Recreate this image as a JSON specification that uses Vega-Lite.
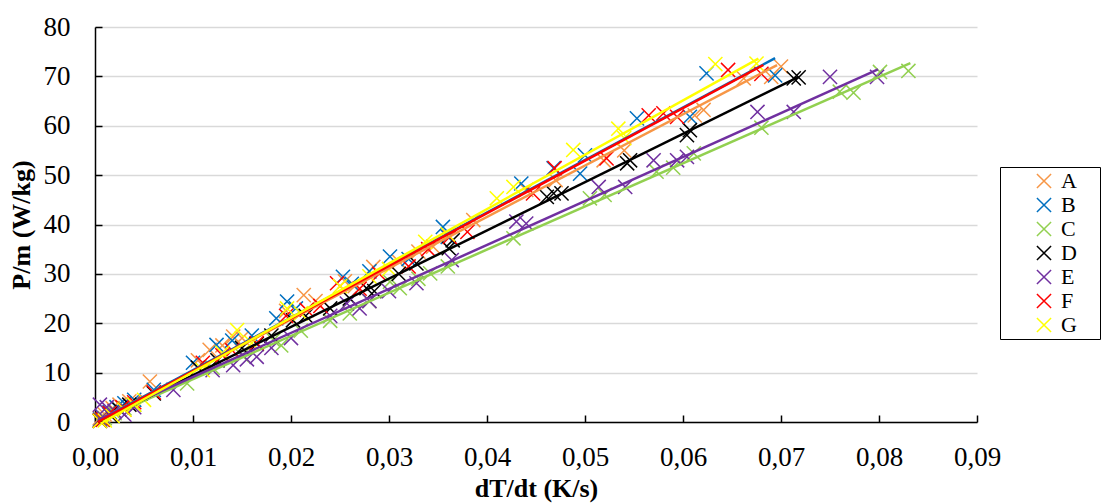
{
  "$schema": "https://vega.github.io/schema/vega-lite/v6.json",
  "width": 882,
  "height": 395,
  "autosize": {"type": "none"},
  "padding": {"left": 95, "top": 27, "right": 125, "bottom": 81},
  "background": "white",
  "config": {
    "view": {"stroke": null},
    "font": "Liberation Serif"
  },
  "datasets": {
    "pts": [
      {"series":"A","x":0.0005,"y":0.8},{"series":"A","x":0.0010,"y":1.5},{"series":"A","x":0.0018,"y":2.8},{"series":"A","x":0.0025,"y":3.5},{"series":"A","x":0.0030,"y":2.5},{"series":"A","x":0.0035,"y":4.2},{"series":"A","x":0.0056,"y":8.2},{"series":"A","x":0.0105,"y":12.5},{"series":"A","x":0.0117,"y":14.6},{"series":"A","x":0.0130,"y":15.5},{"series":"A","x":0.0141,"y":17.3},{"series":"A","x":0.0150,"y":17.0},{"series":"A","x":0.0195,"y":22.5},{"series":"A","x":0.0213,"y":25.7},{"series":"A","x":0.0225,"y":24.5},{"series":"A","x":0.0255,"y":28.5},{"series":"A","x":0.0265,"y":27.5},{"series":"A","x":0.0284,"y":31.4},{"series":"A","x":0.0310,"y":32.5},{"series":"A","x":0.0330,"y":34.5},{"series":"A","x":0.0345,"y":35.5},{"series":"A","x":0.0386,"y":40.9},{"series":"A","x":0.0440,"y":47.0},{"series":"A","x":0.0470,"y":49.0},{"series":"A","x":0.0519,"y":53.0},{"series":"A","x":0.0540,"y":55.0},{"series":"A","x":0.0612,"y":62.1},{"series":"A","x":0.0621,"y":63.2},{"series":"A","x":0.0662,"y":69.6},{"series":"A","x":0.0690,"y":69.9},{"series":"A","x":0.0700,"y":72.0},
      {"series":"B","x":0.0005,"y":0.5},{"series":"B","x":0.0008,"y":1.0},{"series":"B","x":0.0015,"y":2.0},{"series":"B","x":0.0022,"y":3.0},{"series":"B","x":0.0030,"y":3.8},{"series":"B","x":0.0040,"y":4.5},{"series":"B","x":0.0060,"y":6.5},{"series":"B","x":0.0100,"y":12.0},{"series":"B","x":0.0124,"y":15.6},{"series":"B","x":0.0140,"y":16.5},{"series":"B","x":0.0160,"y":17.5},{"series":"B","x":0.0185,"y":21.0},{"series":"B","x":0.0196,"y":24.4},{"series":"B","x":0.0205,"y":23.0},{"series":"B","x":0.0253,"y":29.4},{"series":"B","x":0.0262,"y":28.0},{"series":"B","x":0.0280,"y":30.5},{"series":"B","x":0.0301,"y":33.5},{"series":"B","x":0.0320,"y":33.0},{"series":"B","x":0.0355,"y":39.5},{"series":"B","x":0.0360,"y":37.5},{"series":"B","x":0.0435,"y":48.3},{"series":"B","x":0.0468,"y":51.4},{"series":"B","x":0.0495,"y":50.3},{"series":"B","x":0.0500,"y":54.0},{"series":"B","x":0.0553,"y":61.5},{"series":"B","x":0.0607,"y":61.8},{"series":"B","x":0.0624,"y":70.6},{"series":"B","x":0.0694,"y":70.2},
      {"series":"C","x":0.0005,"y":0.3},{"series":"C","x":0.0010,"y":0.8},{"series":"C","x":0.0020,"y":1.8},{"series":"C","x":0.0030,"y":2.8},{"series":"C","x":0.0040,"y":3.5},{"series":"C","x":0.0094,"y":7.8},{"series":"C","x":0.0120,"y":11.0},{"series":"C","x":0.0150,"y":13.5},{"series":"C","x":0.0182,"y":16.6},{"series":"C","x":0.0190,"y":15.5},{"series":"C","x":0.0210,"y":18.5},{"series":"C","x":0.0240,"y":20.5},{"series":"C","x":0.0260,"y":22.0},{"series":"C","x":0.0280,"y":24.5},{"series":"C","x":0.0301,"y":28.4},{"series":"C","x":0.0311,"y":27.1},{"series":"C","x":0.0330,"y":29.0},{"series":"C","x":0.0342,"y":30.1},{"series":"C","x":0.0360,"y":31.5},{"series":"C","x":0.0427,"y":37.2},{"series":"C","x":0.0505,"y":45.3},{"series":"C","x":0.0520,"y":46.0},{"series":"C","x":0.0573,"y":50.7},{"series":"C","x":0.0590,"y":51.5},{"series":"C","x":0.0611,"y":54.4},{"series":"C","x":0.0680,"y":59.6},{"series":"C","x":0.0760,"y":66.9},{"series":"C","x":0.0774,"y":66.7},{"series":"C","x":0.0801,"y":70.9},{"series":"C","x":0.0830,"y":71.1},
      {"series":"D","x":0.0005,"y":0.2},{"series":"D","x":0.0008,"y":0.5},{"series":"D","x":0.0015,"y":1.5},{"series":"D","x":0.0025,"y":2.5},{"series":"D","x":0.0035,"y":3.5},{"series":"D","x":0.0060,"y":5.8},{"series":"D","x":0.0105,"y":11.0},{"series":"D","x":0.0125,"y":12.5},{"series":"D","x":0.0150,"y":15.0},{"series":"D","x":0.0165,"y":15.8},{"series":"D","x":0.0180,"y":17.5},{"series":"D","x":0.0202,"y":20.6},{"series":"D","x":0.0215,"y":21.5},{"series":"D","x":0.0240,"y":23.0},{"series":"D","x":0.0260,"y":25.0},{"series":"D","x":0.0277,"y":27.1},{"series":"D","x":0.0285,"y":26.5},{"series":"D","x":0.0310,"y":30.0},{"series":"D","x":0.0328,"y":32.1},{"series":"D","x":0.0361,"y":35.2},{"series":"D","x":0.0365,"y":36.8},{"series":"D","x":0.0461,"y":45.6},{"series":"D","x":0.0468,"y":46.3},{"series":"D","x":0.0476,"y":46.3},{"series":"D","x":0.0543,"y":52.4},{"series":"D","x":0.0546,"y":53.0},{"series":"D","x":0.0604,"y":58.1},{"series":"D","x":0.0607,"y":59.1},{"series":"D","x":0.0713,"y":69.6},{"series":"D","x":0.0718,"y":69.8},
      {"series":"E","x":0.0005,"y":3.5},{"series":"E","x":0.0008,"y":1.0},{"series":"E","x":0.0012,"y":3.0},{"series":"E","x":0.0020,"y":2.2},{"series":"E","x":0.0030,"y":1.5},{"series":"E","x":0.0040,"y":3.0},{"series":"E","x":0.0080,"y":6.5},{"series":"E","x":0.0120,"y":10.5},{"series":"E","x":0.0141,"y":11.5},{"series":"E","x":0.0155,"y":12.7},{"series":"E","x":0.0165,"y":13.2},{"series":"E","x":0.0180,"y":15.0},{"series":"E","x":0.0200,"y":17.0},{"series":"E","x":0.0240,"y":21.5},{"series":"E","x":0.0257,"y":24.0},{"series":"E","x":0.0270,"y":23.0},{"series":"E","x":0.0280,"y":24.5},{"series":"E","x":0.0300,"y":26.5},{"series":"E","x":0.0328,"y":28.1},{"series":"E","x":0.0364,"y":32.8},{"series":"E","x":0.0430,"y":40.6},{"series":"E","x":0.0440,"y":40.2},{"series":"E","x":0.0514,"y":47.6},{"series":"E","x":0.0541,"y":47.6},{"series":"E","x":0.0570,"y":53.0},{"series":"E","x":0.0594,"y":53.0},{"series":"E","x":0.0604,"y":53.7},{"series":"E","x":0.0676,"y":62.8},{"series":"E","x":0.0713,"y":62.8},{"series":"E","x":0.0750,"y":69.9},{"series":"E","x":0.0798,"y":69.9},
      {"series":"F","x":0.0005,"y":0.3},{"series":"F","x":0.0008,"y":0.5},{"series":"F","x":0.0015,"y":1.8},{"series":"F","x":0.0028,"y":3.0},{"series":"F","x":0.0040,"y":4.0},{"series":"F","x":0.0060,"y":6.0},{"series":"F","x":0.0110,"y":12.0},{"series":"F","x":0.0130,"y":13.5},{"series":"F","x":0.0140,"y":14.5},{"series":"F","x":0.0165,"y":16.0},{"series":"F","x":0.0195,"y":21.5},{"series":"F","x":0.0216,"y":22.7},{"series":"F","x":0.0230,"y":23.5},{"series":"F","x":0.0247,"y":28.1},{"series":"F","x":0.0270,"y":27.0},{"series":"F","x":0.0290,"y":30.0},{"series":"F","x":0.0320,"y":31.5},{"series":"F","x":0.0340,"y":35.0},{"series":"F","x":0.0362,"y":37.5},{"series":"F","x":0.0380,"y":38.5},{"series":"F","x":0.0447,"y":46.3},{"series":"F","x":0.0469,"y":51.4},{"series":"F","x":0.0522,"y":53.4},{"series":"F","x":0.0565,"y":62.1},{"series":"F","x":0.0580,"y":62.5},{"series":"F","x":0.0594,"y":61.8},{"series":"F","x":0.0646,"y":71.3},{"series":"F","x":0.0680,"y":70.5},
      {"series":"G","x":0.0005,"y":0.2},{"series":"G","x":0.0010,"y":0.3},{"series":"G","x":0.0018,"y":1.2},{"series":"G","x":0.0030,"y":2.5},{"series":"G","x":0.0040,"y":3.5},{"series":"G","x":0.0050,"y":4.5},{"series":"G","x":0.0110,"y":10.5},{"series":"G","x":0.0130,"y":14.0},{"series":"G","x":0.0145,"y":18.6},{"series":"G","x":0.0160,"y":16.0},{"series":"G","x":0.0196,"y":23.0},{"series":"G","x":0.0210,"y":22.0},{"series":"G","x":0.0250,"y":27.5},{"series":"G","x":0.0280,"y":29.5},{"series":"G","x":0.0300,"y":31.0},{"series":"G","x":0.0337,"y":36.5},{"series":"G","x":0.0360,"y":38.0},{"series":"G","x":0.0410,"y":45.3},{"series":"G","x":0.0427,"y":47.6},{"series":"G","x":0.0488,"y":55.1},{"series":"G","x":0.0534,"y":59.4},{"series":"G","x":0.0540,"y":57.5},{"series":"G","x":0.0633,"y":72.5},{"series":"G","x":0.0675,"y":72.6}
    ],
    "fits": [
      {"series":"A","x":0.0003,"y":0.3},{"series":"A","x":0.0696,"y":72.3},
      {"series":"B","x":0.0003,"y":0.2},{"series":"B","x":0.0694,"y":73.7},
      {"series":"C","x":0.0003,"y":0.2},{"series":"C","x":0.0832,"y":72.7},
      {"series":"D","x":0.0003,"y":0.0},{"series":"D","x":0.0718,"y":69.9},
      {"series":"E","x":0.0003,"y":0.5},{"series":"E","x":0.0799,"y":71.4},
      {"series":"F","x":0.0003,"y":0.0},{"series":"F","x":0.0682,"y":72.3},
      {"series":"G","x":0.0008,"y":0.0},{"series":"G","x":0.0677,"y":73.6}
    ]
  },
  "encoding": {
    "x": {
      "field": "x", "type": "quantitative",
      "scale": {"domain": [0, 0.09], "nice": false, "zero": true},
      "axis": {
        "values": [0, 0.01, 0.02, 0.03, 0.04, 0.05, 0.06, 0.07, 0.08, 0.09],
        "labelExpr": "replace(format(datum.value, '.2f'), '.', ',')",
        "labelFlush": false,
        "grid": false,
        "title": "dT/dt (K/s)",
        "titleFont": "Liberation Serif", "titleFontSize": 26, "titleFontWeight": "bold", "titleColor": "black",
        "titlePadding": 5,
        "labelFont": "Liberation Serif", "labelFontSize": 27, "labelColor": "black", "labelPadding": 29,
        "domainColor": "black", "domainWidth": 1.5,
        "tickColor": "black", "tickWidth": 1.5, "tickSize": -7
      }
    },
    "y": {
      "field": "y", "type": "quantitative",
      "scale": {"domain": [0, 80], "nice": false},
      "axis": {
        "values": [0, 10, 20, 30, 40, 50, 60, 70, 80],
        "labelFlush": false,
        "grid": true, "gridColor": "#d9d9d9", "gridWidth": 1.5,
        "title": "P/m (W/kg)",
        "titleFont": "Liberation Serif", "titleFontSize": 26, "titleFontWeight": "bold", "titleColor": "black",
        "titlePadding": 9,
        "labelFont": "Liberation Serif", "labelFontSize": 27, "labelColor": "black", "labelPadding": 32,
        "domainColor": "black", "domainWidth": 1.5,
        "tickColor": "black", "tickWidth": 1.5, "tickSize": -7
      }
    }
  },
  "layer": [
    {
      "data": {"name": "pts"},
      "mark": {"type": "point", "shape": "M-1,-1L1,1M1,-1L-1,1", "filled": false, "strokeWidth": 1.5, "size": 200, "opacity": 1},
      "encoding": {
        "color": {
          "field": "series", "type": "nominal",
          "scale": {"domain": ["A","B","C","D","E","F","G"], "range": ["#F79646","#0070C0","#92D050","#000000","#7030A0","#FF0000","#FFFF00"]},
          "legend": {
            "orient": "none", "legendX": 905, "legendY": 140,
            "title": "|",
            "titleOrient": "right",
            "titleColor": "transparent",
            "titleFontSize": 10,
            "titlePadding": 17,
            "symbolType": "M-1,-1L1,1M1,-1L-1,1",
            "symbolSize": 200, "symbolStrokeWidth": 1.5, "symbolFillColor": "transparent",
            "labelFont": "Liberation Serif", "labelFontSize": 22, "labelColor": "black",
            "labelOffset": 6,
            "symbolOffset": 30,
            "padding": 3,
            "rowPadding": 2,
            "strokeColor": "black",
            "fillColor": "white"
          }
        }
      }
    },
    {
      "data": {"name": "fits"},
      "mark": {"type": "line", "strokeWidth": 2.5},
      "encoding": {
        "stroke": {
          "field": "series", "type": "nominal",
          "scale": {"domain": ["A","B","C","D","E","F","G"], "range": ["#F79646","#0070C0","#92D050","#000000","#7030A0","#FF0000","#FFFF00"]},
          "legend": null
        }
      }
    }
  ]
}
